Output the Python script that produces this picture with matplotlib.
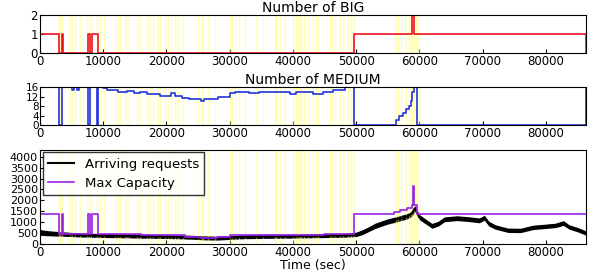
import matplotlib
matplotlib.use('Agg')
import matplotlib.pyplot as plt
import numpy as np

T_END = 86400

# moments of reconfiguration (yellow marks)
events = [3000, 3200, 3500, 4700, 5100, 5500, 6300, 7500, 7800, 8000, 9000, 9500, 10050,
          11900, 12300, 12700, 13500, 13800, 14100, 15400, 15800, 17000, 17400, 17800,
          18600, 19000, 19700, 20200, 20700, 21300, 21800, 22600, 25000, 25600, 25800,
          26600, 27700, 30100, 30400, 30900, 31400, 32500, 34100, 35200, 37100, 37300,
          37900, 38700, 40000, 40500, 40800, 41100, 41300, 41800, 42400, 43200, 43700,
          43950, 45800, 46200, 46700, 47400, 47900, 48700, 49200, 49700, 56300, 56700,
          57100, 57900, 58400, 58700, 58900, 59200, 59500, 59700, 59900]

big_t = [0, 3000, 3500, 3700, 7600, 7900, 8300, 9100, 49700, 58800, 59100, 86300, 86400]
big_n = [1, 0, 1, 0, 1, 0, 1, 0, 1, 2, 1, 0, 0]

med_t = [0, 3000, 3500, 5100, 5400, 5900, 6200, 7600, 7900, 9000, 9200, 10000, 10600,
         12300, 13800, 14800, 15800, 17000, 19000, 20700, 21300, 22400, 23500, 25400,
         25900, 28200, 30000, 30900, 33000, 34700, 37000, 39500, 40500, 43200, 44800,
         46300, 48300, 49700, 56300, 56800, 57400, 57900, 58400, 58700, 58900, 59200,
         59700, 86300, 86400]
med_n = [16, 0, 16, 15, 16, 15, 16, 0, 16, 0, 16, 15.5, 15, 14, 14.5, 13.5, 14, 13, 12.5,
         13.5, 12.5, 11.5, 11, 10, 11, 12, 13.5, 14, 13.5, 14, 14, 13, 14, 13, 14, 15, 16,
         0, 2, 4, 5, 7, 8, 10, 14, 16, 0, 16, 16]

cap_t = [0, 3000, 3500, 3700, 7600, 7900, 8300, 9100, 12000, 16000, 20000, 21000, 23000,
         25500, 28000, 30000, 35000, 40000, 45000, 49700, 55000, 56000, 57000, 58000,
         58800, 59000, 59200, 59600, 86400]
cap_v = [1370, 460, 1370, 460, 1370, 460, 1370, 470, 450, 420, 430, 400, 330, 300, 350,
         420, 430, 440, 460, 1370, 1370, 1450, 1550, 1650, 1800, 2680, 1800, 1370, 1370]

req_t = [0, 1000, 2000, 4000, 6000, 8000, 10000, 12000, 14000, 16000, 18000, 20000, 22000,
         24000, 26000, 28000, 30000, 32000, 34000, 36000, 38000, 40000, 42000, 44000, 46000,
         48000, 50000, 51000, 52000, 53000, 54000, 55000, 56000, 57000, 58000, 58800, 59300,
         60000, 61000, 62000, 63000, 64000, 66000, 68000, 69500, 70300, 71000, 72000, 74000,
         76000, 78000, 80000, 81500, 82800, 83700, 85000, 86400]
req_mid = [540, 510, 490, 460, 430, 410, 400, 390, 380, 370, 360, 350, 340, 320, 290, 280,
           310, 340, 350, 360, 365, 370, 380, 390, 400, 410, 450, 550, 690, 840, 940, 1040,
           1110, 1190, 1270, 1390, 1640, 1240, 1040, 840, 940, 1140, 1190, 1140, 1090, 1210,
           940, 790, 640, 630, 770, 820, 860, 970, 790, 670, 510]
req_spread = [130, 120, 110, 100, 95, 90, 90, 90, 90, 90, 90, 90, 90, 90, 90, 90, 90, 90, 90,
              90, 90, 90, 90, 90, 90, 90, 100, 110, 110, 120, 120, 120, 120, 120, 120, 120,
              130, 120, 110, 110, 110, 110, 110, 110, 110, 110, 110, 100, 100, 100, 100, 100,
              100, 110, 100, 100, 100]

plt.rcParams['font.size'] = 8.5

fig = plt.figure(figsize=(5.93, 2.72), dpi=100)
ax1 = fig.add_axes([0.0675, 0.805, 0.921, 0.140])
ax2 = fig.add_axes([0.0675, 0.540, 0.921, 0.139])
ax3 = fig.add_axes([0.0675, 0.102, 0.921, 0.348])

for ax in (ax1, ax2, ax3):
    for e in events:
        ax.axvline(e, color='#ffff66', alpha=0.45, lw=1)
    ax.set_xlim(0, T_END)
    ax.set_xticks(np.arange(0, 90000, 10000))
    ax.tick_params(length=3, pad=1.5, direction='in')

ax1.plot(big_t, big_n, color='#ee1122', lw=1.2, drawstyle='steps-post')
ax1.set_ylim(0, 2)
ax1.set_yticks([0, 1, 2])
ax1.set_title('Number of BIG', fontsize=10, pad=2)

ax2.plot(med_t, med_n, color='#2233dd', lw=1.2, drawstyle='steps-post')
ax2.set_ylim(0, 16)
ax2.set_yticks([0, 4, 8, 12, 16])
ax2.tick_params(axis='y', labelsize=7.5, pad=1)
ax2.set_title('Number of MEDIUM', fontsize=10, pad=2)

lo = np.array(req_mid) - np.array(req_spread)
hi = np.array(req_mid) + np.array(req_spread)
ax3.fill_between(req_t, lo, hi, color='black', lw=0)
ax3.plot(req_t, req_mid, color='black', lw=1.5, label='Arriving requests')
ax3.plot(cap_t, cap_v, color='#9b1fe8', lw=1.2, drawstyle='steps-post', label='Max Capacity')
ax3.set_ylim(0, 4320)
ax3.set_yticks(np.arange(0, 4001, 500))
ax3.tick_params(axis='y', labelsize=8)
ax3.set_xlabel('Time (sec)', fontsize=9, labelpad=0)
ax3.legend(loc='upper left', fontsize=9.5, borderaxespad=0.2, handlelength=2,
           fancybox=False, edgecolor='black')

fig.savefig('out.png', dpi=100)
